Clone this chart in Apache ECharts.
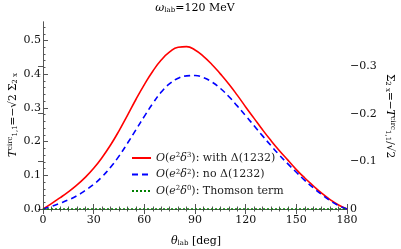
<!DOCTYPE html>
<html><head><meta charset="utf-8">
<script src="https://cdn.jsdelivr.net/npm/echarts@6/dist/echarts.min.js"></script>
<style>html,body{margin:0;padding:0;background:#fff}#c{width:401px;height:249px}</style>
</head><body><div id="c"></div>
<script>
const theta = [0,5,10,15,20,25,30,35,40,45,50,55,60,65,70,75,80,85,90,95,100,105,110,115,120,125,130,135,140,145,150,155,160,165,170,175,180];
const withDelta = [0,0.016,0.033,0.051,0.071,0.094,0.121,0.153,0.190,0.232,0.278,0.325,0.369,0.409,0.442,0.466,0.480,0.482,0.472,0.453,0.429,0.401,0.371,0.338,0.303,0.269,0.235,0.203,0.173,0.145,0.117,0.092,0.069,0.047,0.028,0.012,0];
const noDelta = [0,0.008,0.017,0.027,0.039,0.055,0.073,0.096,0.124,0.157,0.195,0.235,0.275,0.313,0.347,0.372,0.388,0.395,0.396,0.390,0.377,0.358,0.334,0.306,0.277,0.247,0.217,0.188,0.160,0.134,0.109,0.085,0.063,0.043,0.025,0.010,0];
const thomson = theta.map(() => 0);
const xTicks = [0,30,60,90,120,150,180];
const leftTicks = [0,0.1,0.2,0.3,0.4,0.5];
const rightTicks = [0,-0.1,-0.2,-0.3];
const seriesNames = ['O(e2d3)','O(e2d2)','O(e2d0)'];

const F = 'DejaVu Serif';
const yMax = 0.555;
const chart = echarts.init(document.getElementById('c'));
const pairs = (ys) => theta.map((t,i) => [t, ys[i]]);
const axisCol = '#555';
const mk = (fs) => ({
  n:{fontFamily:F,fontSize:fs,color:'#222',lineHeight:12},
  i:{fontFamily:F,fontSize:fs,fontStyle:'italic',color:'#222',lineHeight:12},
  sp:{fontFamily:F,fontSize:7,color:'#222',lineHeight:7,verticalAlign:'top'},
  sb:{fontFamily:F,fontSize:7,color:'#222',lineHeight:7,verticalAlign:'bottom'}
});
const rich = mk(11);
const richS = mk(10.5);
const legendText = {
  'O(e2d3)':'{i|O}{n|(}{i|e}{sp|2}{i|δ}{sp|3}{n|): with Δ(1232)}',
  'O(e2d2)':'{i|O}{n|(}{i|e}{sp|2}{i|δ}{sp|2}{n|): no Δ(1232)}',
  'O(e2d0)':'{i|O}{n|(}{i|e}{sp|2}{i|δ}{sp|0}{n|): Thomson term}'
};
chart.setOption({
  animation:false,
  grid:{left:43,right:54,top:22,bottom:40},
  xAxis:[{type:'value',min:0,max:180,interval:30,position:'bottom',
    axisLine:{lineStyle:{color:axisCol,width:1}},
    axisTick:{inside:true,length:5,lineStyle:{color:axisCol}},
    minorTick:{show:true,splitNumber:6,length:2.5,lineStyle:{color:axisCol}},
    splitLine:{show:false},
    axisLabel:{fontFamily:F,fontSize:11,color:'#111',margin:6,customValues:xTicks}},
   {type:'value',min:0,max:180,interval:30,position:'top',
    axisLine:{lineStyle:{color:axisCol,width:1}},
    axisTick:{inside:true,length:5,lineStyle:{color:axisCol}},
    minorTick:{show:true,splitNumber:6,length:2.5,lineStyle:{color:axisCol}},
    splitLine:{show:false},axisLabel:{show:false}}],
  yAxis:[{type:'value',min:0,max:yMax,interval:0.1,position:'left',
    axisLine:{show:true,lineStyle:{color:axisCol,width:1}},
    axisTick:{inside:true,length:5,lineStyle:{color:axisCol},customValues:leftTicks},
    minorTick:{show:true,splitNumber:5,length:2.5,lineStyle:{color:axisCol}},
    splitLine:{show:false},
    axisLabel:{fontFamily:F,fontSize:11,color:'#111',margin:2,customValues:leftTicks,formatter:v=>v.toFixed(1)}},
   {type:'value',min:-yMax/Math.SQRT2,max:0,inverse:true,position:'right',
    axisLine:{show:true,lineStyle:{color:axisCol,width:1}},
    axisTick:{inside:true,length:5,lineStyle:{color:axisCol},customValues:rightTicks},
    splitLine:{show:false},
    axisLabel:{fontFamily:F,fontSize:11,color:'#111',margin:3,customValues:rightTicks,
      formatter:v=>Math.abs(v)<1e-9?'0':'−'+Math.abs(v).toFixed(1)}}],
  legend:{orient:'vertical',left:126,top:147,itemWidth:19,itemHeight:10,itemGap:5,
    data:seriesNames,
    itemStyle:{opacity:0},
    formatter:n=>legendText[n],
    textStyle:{fontFamily:F,fontSize:11,color:'#222',rich:rich}},
  series:[
    {name:seriesNames[0],type:'line',data:pairs(withDelta),smooth:0.5,symbol:'none',
      lineStyle:{color:'#ff0000',width:1.6},itemStyle:{color:'#ff0000'},z:3},
    {name:seriesNames[1],type:'line',data:pairs(noDelta),smooth:0.5,symbol:'none',
      lineStyle:{color:'#0000ff',width:1.6,type:[6,4]},itemStyle:{color:'#0000ff'},z:4},
    {name:seriesNames[2],type:'line',data:pairs(thomson),symbol:'none',
      lineStyle:{color:'#008000',width:1.6,type:[2,2]},itemStyle:{color:'#008000'},z:5}
  ],
  graphic:[
    {type:'text',x:195,y:8,style:{text:'{i|ω}{sb|lab}{n|=120 MeV}',rich:rich,align:'center',verticalAlign:'middle'}},
    {type:'text',x:196,y:241,style:{text:'{i|θ}{sb|lab}{n| [deg]}',rich:rich,align:'center',verticalAlign:'middle'}},
    {type:'text',x:13,y:115,rotation:Math.PI/2,style:{text:'{i|T}{sp|circ}{sb|1,1}{n|=−√2 Σ}{sb|2 x}',rich:richS,align:'center',verticalAlign:'middle'}},
    {type:'text',x:390,y:116,rotation:-Math.PI/2,style:{text:'{n|Σ}{sb|2 x}{n|=−}{i|T}{sp|circ}{sb|1,1}{n|/√2}',rich:richS,align:'center',verticalAlign:'middle'}}
  ]
});
</script></body></html>
